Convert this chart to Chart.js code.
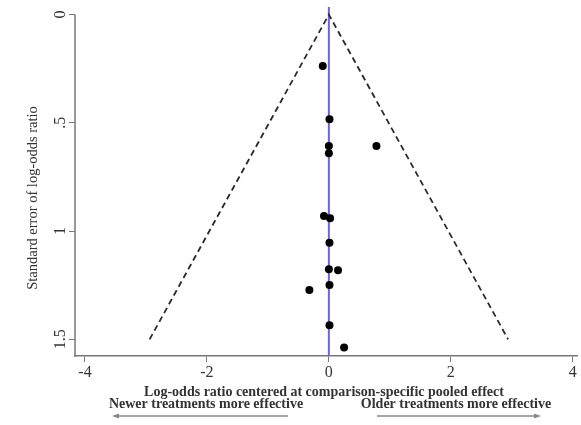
<!DOCTYPE html>
<html>
<head>
<meta charset="utf-8">
<script src="https://cdn.jsdelivr.net/npm/chart.js@4.4.1/dist/chart.umd.min.js"></script>
<style>
html,body{margin:0;padding:0;background:#fff;}
canvas{display:block;}
</style>
</head>
<body>
<canvas id="c" width="581" height="425"></canvas>
<script>
// Data
const studyEffect = [-0.10, 0.01, 0.00, 0.78, 0.00, -0.08, 0.02, 0.01, 0.00, 0.15, 0.01, -0.32, 0.01, 0.25];
const studySE     = [0.238, 0.484, 0.607, 0.607, 0.641, 0.930, 0.941, 1.054, 1.176, 1.181, 1.249, 1.272, 1.435, 1.538];
// Pseudo 95% confidence limits (funnel)
const funnelX = [-2.94, 0, 2.94];
const funnelY = [1.5, 0, 1.5];
const xTicks = [-4, -2, 0, 2, 4];
const xTickLabels = ["-4", "-2", "0", "2", "4"];
const yTicks = [0, 0.5, 1, 1.5];
const yTickLabels = ["0", ".5", "1", "1.5"];
const yTitle = "Standard error of log-odds ratio";
const xTitle = "Log-odds ratio centered at comparison-specific pooled effect";
const leftNote = "Newer treatments more effective";
const rightNote = "Older treatments more effective";

const SERIF = '"Liberation Serif", "DejaVu Serif", serif';
const Y_MIN = -0.035, Y_MAX = 1.577;

const decor = {
  id: 'decor',
  beforeDatasetsDraw(chart) {
    const ctx = chart.ctx, xs = chart.scales.x, a = chart.chartArea;
    const px = xs.getPixelForValue(0);
    ctx.save();
    ctx.strokeStyle = '#6b66d6';
    ctx.lineWidth = 2;
    ctx.beginPath();
    ctx.moveTo(px, a.top);
    ctx.lineTo(px, a.bottom);
    ctx.stroke();
    ctx.restore();
  },
  afterDraw(chart) {
    const ctx = chart.ctx, xs = chart.scales.x, ys = chart.scales.y, a = chart.chartArea;
    ctx.save();
    // y axis line from 0 to bottom
    ctx.strokeStyle = '#777';
    ctx.lineWidth = 1.5;
    ctx.beginPath();
    ctx.moveTo(a.left, ys.getPixelForValue(0));
    ctx.lineTo(a.left, a.bottom + 0.75);
    ctx.stroke();
    // y tick labels, rotated
    ctx.fillStyle = '#333';
    ctx.font = '16px ' + SERIF;
    ctx.textAlign = 'center';
    ctx.textBaseline = 'middle';
    yTicks.forEach((v, i) => {
      ctx.save();
      ctx.translate(a.left - 14, ys.getPixelForValue(v));
      ctx.rotate(-Math.PI / 2);
      ctx.fillText(yTickLabels[i], 0, 0);
      ctx.restore();
    });
    // y title
    ctx.save();
    ctx.font = '14.5px ' + SERIF;
    ctx.translate(33, 198);
    ctx.rotate(-Math.PI / 2);
    ctx.fillText(yTitle, 0, 0);
    ctx.restore();
    // x title and notes
    ctx.font = 'bold 14px ' + SERIF;
    ctx.fillStyle = '#333';
    ctx.fillText(xTitle, 324, 392);
    ctx.fillText(leftNote, 206, 404);
    ctx.fillText(rightNote, 456, 404);
    // arrows
    ctx.strokeStyle = '#888';
    ctx.fillStyle = '#888';
    ctx.lineWidth = 1.5;
    const ay = 416;
    ctx.beginPath(); ctx.moveTo(288, ay); ctx.lineTo(116, ay); ctx.stroke();
    ctx.beginPath(); ctx.moveTo(112, ay); ctx.lineTo(119, ay - 2.5); ctx.lineTo(119, ay + 2.5); ctx.closePath(); ctx.fill();
    ctx.beginPath(); ctx.moveTo(377, ay); ctx.lineTo(537, ay); ctx.stroke();
    ctx.beginPath(); ctx.moveTo(541, ay); ctx.lineTo(534, ay - 2.5); ctx.lineTo(534, ay + 2.5); ctx.closePath(); ctx.fill();
    ctx.restore();
  }
};

new Chart(document.getElementById('c'), {
  type: 'scatter',
  data: {
    datasets: [
      {
        type: 'line',
        data: funnelX.map((x, i) => ({x: x, y: funnelY[i]})),
        borderColor: '#2a2a2a',
        borderWidth: 1.8,
        borderDash: [6, 4],
        pointRadius: 0,
        fill: false,
        tension: 0
      },
      {
        data: studyEffect.map((x, i) => ({x: x, y: studySE[i]})),
        backgroundColor: '#000',
        borderColor: '#000',
        pointRadius: 4,
        pointBorderWidth: 0
      }
    ]
  },
  options: {
    responsive: false,
    animation: false,
    events: [],
    layout: { padding: { left: 0, right: 0, top: 7, bottom: 0 } },
    plugins: { legend: { display: false }, tooltip: { enabled: false } },
    scales: {
      x: {
        type: 'linear',
        min: -4.164, max: 4.07,
        afterBuildTicks: s => { s.ticks = xTicks.map(v => ({value: v})); },
        afterFit: s => { s.height = 69; },
        ticks: {
          color: '#333',
          font: { family: SERIF, size: 16 },
          padding: 1,
          callback: (v) => xTickLabels[xTicks.indexOf(v)]
        },
        grid: { drawOnChartArea: false, tickLength: 6, color: '#777', lineWidth: 1 },
        border: { display: true, color: '#777', width: 1.5 }
      },
      y: {
        type: 'linear',
        reverse: true,
        min: Y_MIN, max: Y_MAX,
        afterBuildTicks: s => { s.ticks = yTicks.map(v => ({value: v})); },
        afterFit: s => { s.width = 75; },
        ticks: { display: false },
        grid: { drawOnChartArea: false, tickLength: 6, color: '#777', lineWidth: 1 },
        border: { display: false }
      }
    }
  },
  plugins: [decor]
});
</script>
</body>
</html>
